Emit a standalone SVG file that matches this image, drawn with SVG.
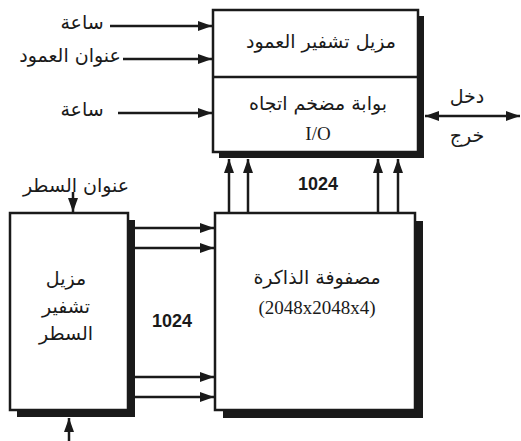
<svg xmlns="http://www.w3.org/2000/svg" width="521" height="441" viewBox="0 0 521 441">
<style>
.box{fill:#fff;stroke:#1a1a1a;stroke-width:2.5}
.sh{fill:#1a1a1a}
.ln{stroke:#1a1a1a;stroke-width:2.5;fill:none}
.ar{font-family:"DejaVu Sans","Noto Sans",sans-serif;font-size:19px;fill:#1a1a1a;text-anchor:middle}
.lat{font-family:"Liberation Serif",serif;font-size:19px;fill:#1a1a1a;text-anchor:middle}
.num{font-family:"Liberation Sans",Arial,sans-serif;font-size:19px;font-weight:bold;fill:#1a1a1a;text-anchor:middle}
</style>
<defs>
<marker id="ah" viewBox="0 0 14 10" refX="14" refY="5" markerWidth="14" markerHeight="10" markerUnits="userSpaceOnUse" orient="auto-start-reverse">
<path d="M0,0 L14,5 L0,10 z" fill="#1a1a1a"/>
</marker>
</defs>
<g id="column-decoder-io">
<rect class="sh" x="219" y="16" width="205" height="142"/>
<rect class="box" x="213" y="10" width="205" height="142"/>
<line class="ln" x1="213" y1="77" x2="418" y2="77"/>
<text class="ar" x="321" y="48">مزيل تشفير العمود</text>
<text class="ar" x="318" y="110">بوابة مضخم اتجاه</text>
<text class="lat" x="318" y="140">I/O</text>
</g>
<g id="memory-array">
<rect class="sh" x="223" y="221" width="200" height="197"/>
<rect class="box" x="215" y="213" width="200" height="197"/>
<text class="ar" x="317" y="284">مصفوفة الذاكرة</text>
<text class="lat" x="317" y="314">(2048x2048x4)</text>
</g>
<g id="row-decoder">
<rect class="sh" x="17" y="220" width="118" height="197"/>
<rect class="box" x="10" y="213" width="118" height="197"/>
<text class="ar" x="66" y="285">مزيل</text>
<text class="ar" x="66" y="313">تشفير</text>
<text class="ar" x="66" y="340">السطر</text>
</g>
<g id="labels">
<text class="ar" x="82" y="29">ساعة</text>
<text class="ar" x="70" y="62">عنوان العمود</text>
<text class="ar" x="82" y="116">ساعة</text>
<text class="ar" x="76" y="192">عنوان السطر</text>
<text class="ar" x="467" y="103">دخل</text>
<text class="ar" x="467" y="142">خرج</text>
<text class="num" x="318" y="190" textLength="40" lengthAdjust="spacingAndGlyphs">1024</text>
<text class="num" x="172" y="327" textLength="40" lengthAdjust="spacingAndGlyphs">1024</text>
</g>
<g id="connectors">
<line class="ln" x1="110" y1="26" x2="212" y2="26" marker-end="url(#ah)"/>
<line class="ln" x1="123" y1="59" x2="212" y2="59" marker-end="url(#ah)"/>
<line class="ln" x1="118" y1="113" x2="212" y2="113" marker-end="url(#ah)"/>
<line class="ln" x1="229" y1="212" x2="229" y2="159" marker-end="url(#ah)"/>
<line class="ln" x1="248" y1="212" x2="248" y2="159" marker-end="url(#ah)"/>
<line class="ln" x1="378" y1="212" x2="378" y2="159" marker-end="url(#ah)"/>
<line class="ln" x1="398" y1="212" x2="398" y2="159" marker-end="url(#ah)"/>
<line class="ln" x1="135" y1="228" x2="214" y2="228" marker-end="url(#ah)"/>
<line class="ln" x1="135" y1="248" x2="214" y2="248" marker-end="url(#ah)"/>
<line class="ln" x1="135" y1="377" x2="214" y2="377" marker-end="url(#ah)"/>
<line class="ln" x1="135" y1="397" x2="214" y2="397" marker-end="url(#ah)"/>
<line class="ln" x1="73" y1="192" x2="73" y2="212" marker-end="url(#ah)"/>
<line class="ln" x1="69" y1="441" x2="69" y2="418" marker-end="url(#ah)"/>
<line class="ln" x1="425" y1="116" x2="520" y2="116" marker-start="url(#ah)" marker-end="url(#ah)"/>
</g>
</svg>
